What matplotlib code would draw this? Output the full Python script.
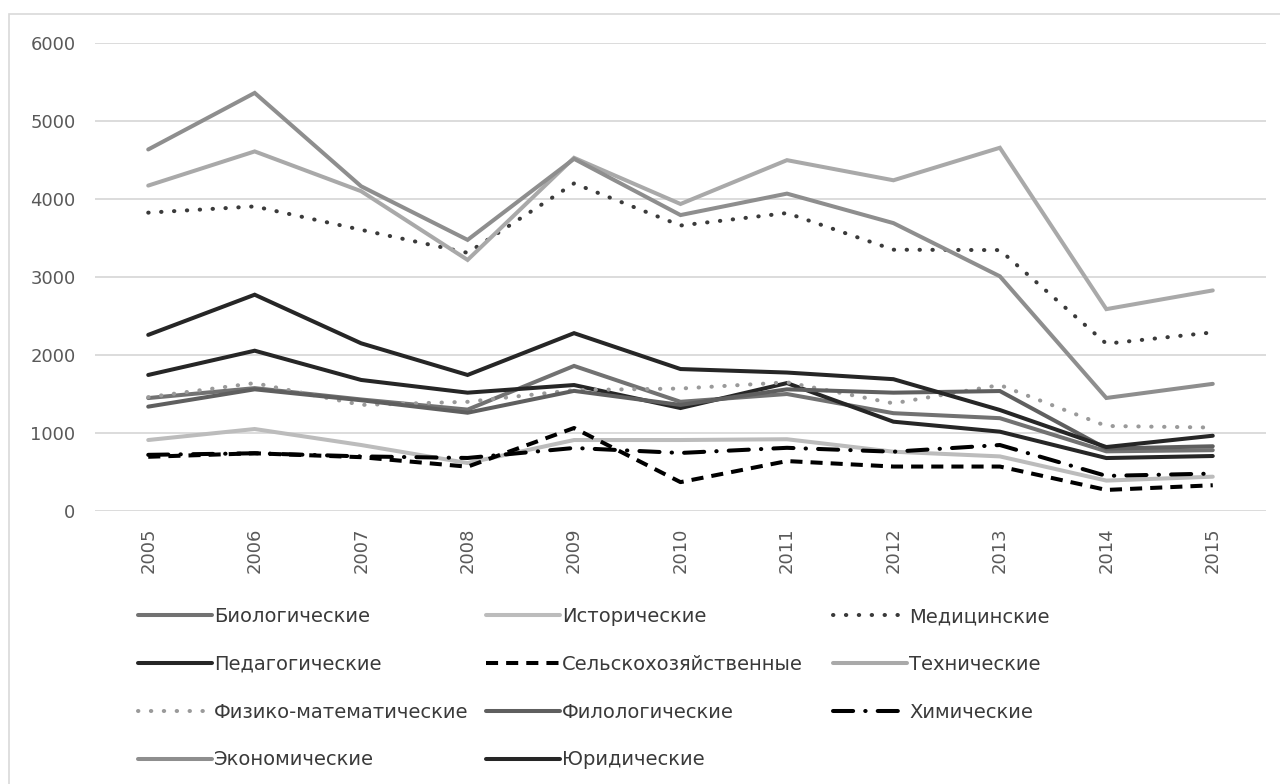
import matplotlib
matplotlib.use("Agg")
import matplotlib.pyplot as plt
from matplotlib.patches import Rectangle

plt.rcParams['font.family'] = ['DejaVu Sans']

years = [2005, 2006, 2007, 2008, 2009, 2010, 2011, 2012, 2013, 2014, 2015]

biolog = [1448, 1575, 1430, 1300, 1860, 1400, 1500, 1254, 1190, 765, 780]
istor = [910, 1051, 846, 615, 910, 910, 920, 760, 700, 390, 440]
medic = [3825, 3905, 3605, 3310, 4200, 3660, 3820, 3350, 3345, 2145, 2290]
pedag = [1744, 2055, 1680, 1517, 1615, 1320, 1640, 1145, 1017, 679, 705]
selhoz = [695, 740, 690, 568, 1064, 370, 640, 570, 570, 270, 330]
tehn = [4172, 4610, 4100, 3219, 4528, 3936, 4498, 4240, 4657, 2588, 2828]
fizmat = [1460, 1640, 1360, 1400, 1550, 1570, 1650, 1380, 1615, 1090, 1070]
filolog = [1338, 1560, 1420, 1260, 1540, 1360, 1560, 1517, 1538, 800, 830]
himich = [720, 740, 700, 680, 808, 744, 810, 760, 846, 450, 480]
ekonom = [4635, 5360, 4163, 3476, 4515, 3794, 4069, 3691, 3009, 1449, 1630]
yurid = [2258, 2773, 2150, 1744, 2280, 1820, 1775, 1690, 1295, 820, 965]

names = ['Биологические', 'Исторические', 'Медицинские', 'Педагогические',
         'Сельскохозяйственные', 'Технические', 'Физико-математические',
         'Филологические', 'Химические', 'Экономические', 'Юридические']
series = [biolog, istor, medic, pedag, selhoz, tehn, fizmat, filolog, himich, ekonom, yurid]

colors = ['#727272', '#bcbcbc', '#3a3a3a', '#262626', '#000000', '#a9a9a9',
          '#9a9a9a', '#5f5f5f', '#000000', '#8e8e8e', '#262626']
dots = (0, (0.1, 3.1))
dashdot = (0, (5, 3, 0.1, 3))
styles = ['-', '-', dots, '-', (0, (3, 2)), '-', dots, '-', dashdot, '-', '-']

fig = plt.figure(figsize=(12.8, 7.84), dpi=100)
ax = fig.add_axes([95 / 1280, 1 - 511 / 784, 1171 / 1280, 468 / 784])

# light frame round the chart area
fig.patches.append(Rectangle((9 / 1280, -0.01), 1.0, 1 - 14 / 784 + 0.01,
                             transform=fig.transFigure, fill=False,
                             edgecolor='#d9d9d9', lw=1.2))

xs = list(range(len(years)))
handles = []
for vals, c, ls, nm in zip(series, colors, styles, names):
    cap = 'round' if ls in (dots, dashdot) else 'butt'
    h, = ax.plot(xs, vals, color=c, lw=2.9, linestyle=ls, label=nm,
                 dash_capstyle=cap, solid_capstyle='round', solid_joinstyle='miter')
    handles.append(h)

ax.set_xlim(-0.5, 10.5)
ax.set_ylim(0, 6000)
ax.set_yticks(range(0, 6001, 1000))
ax.set_xticks(xs)
ax.set_xticklabels([str(y) for y in years], rotation=90)
ax.grid(axis='y', color='#d9d9d9', lw=1.3)
ax.set_axisbelow(True)
for s in ax.spines.values():
    s.set_visible(False)
ax.tick_params(axis='y', length=0, pad=14, labelsize=13, labelcolor='#595959')
ax.tick_params(axis='x', length=0, pad=12, labelsize=13, labelcolor='#595959')

# legend in three fixed columns, like the original
cols = [[0, 3, 6, 9], [1, 4, 7, 10], [2, 5, 8]]
col_x = [138, 486, 833]
for idx, cx in zip(cols, col_x):
    leg = fig.legend([handles[i] for i in idx], [names[i] for i in idx],
                     loc='upper left', bbox_to_anchor=(cx / 1280, 1 - 607 / 784),
                     frameon=False, fontsize=14, handlelength=3.8,
                     handletextpad=0.12, labelspacing=1.48, borderpad=0,
                     borderaxespad=0)
    for t in leg.get_texts():
        t.set_color('#3a3a3a')

fig.savefig('out.png', dpi=100, facecolor='white')
